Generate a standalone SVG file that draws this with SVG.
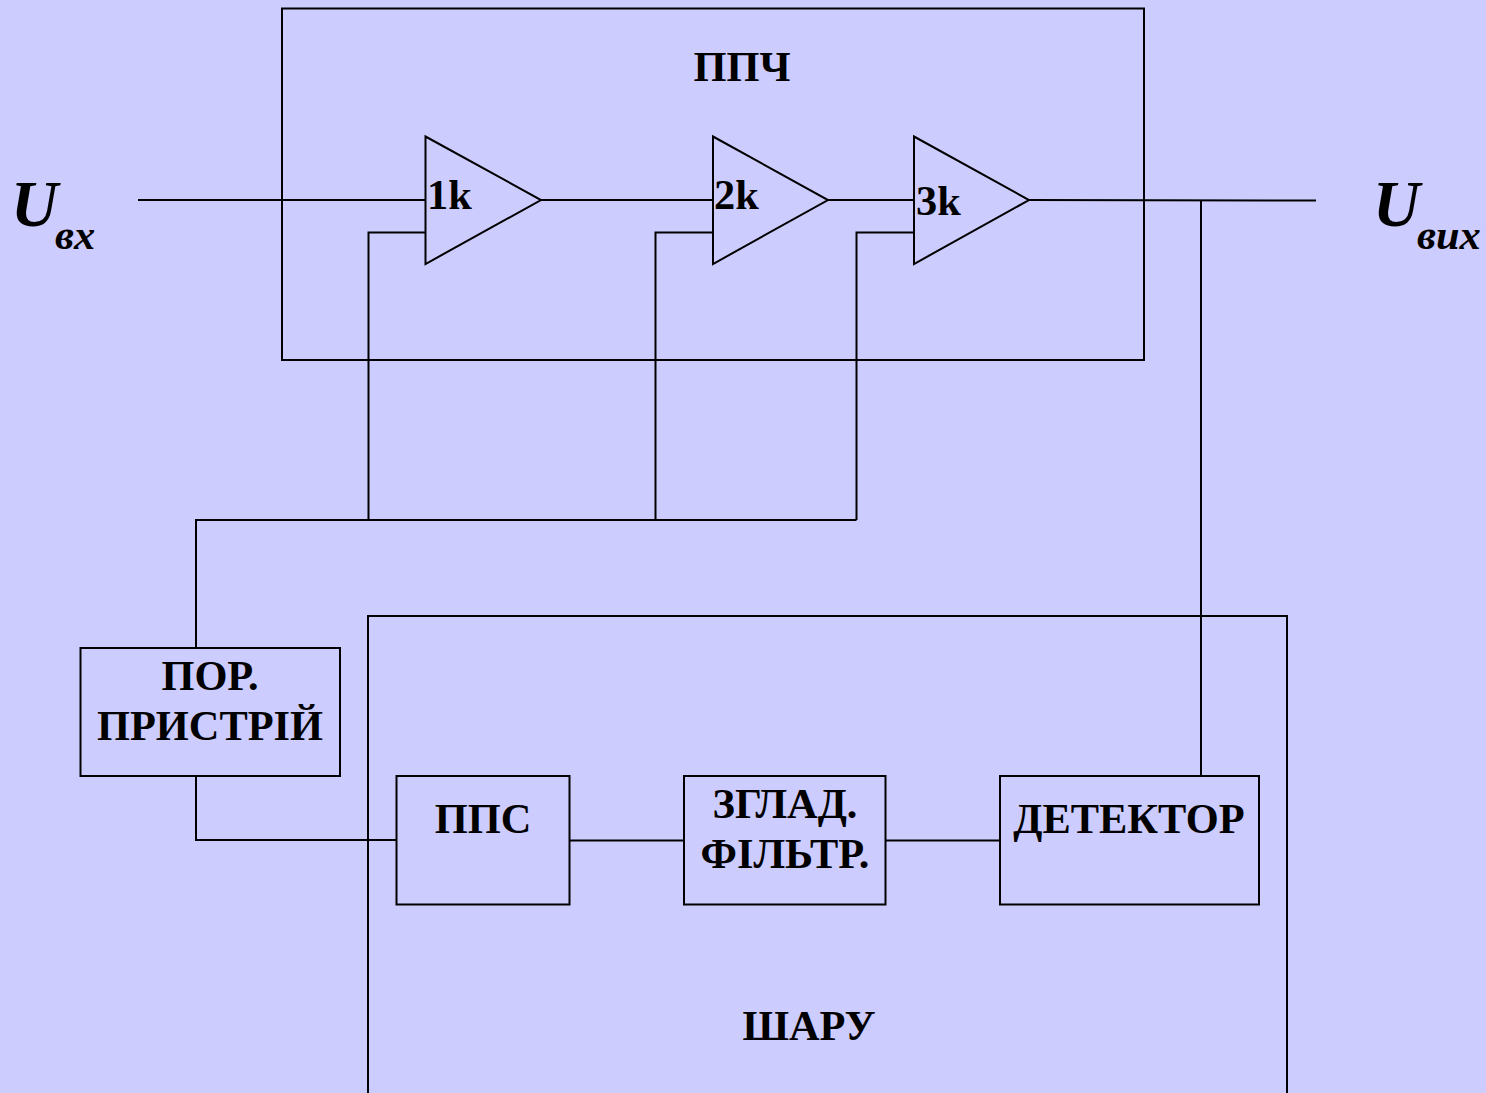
<svg xmlns="http://www.w3.org/2000/svg" width="1486" height="1093" viewBox="0 0 1486 1093">
<style>
.l{fill:none;stroke:#000;stroke-width:2}
.t{font-family:"Liberation Serif","Times New Roman",serif;font-weight:bold;fill:#000;font-size:42.4px;text-anchor:middle}
.k{font-family:"Liberation Serif","Times New Roman",serif;font-weight:bold;fill:#000;font-size:42.4px}
.u{font-family:"Liberation Serif","Times New Roman",serif;font-weight:bold;font-style:italic;fill:#000;font-size:65px}
.s{font-family:"Liberation Serif","Times New Roman",serif;font-weight:bold;font-style:italic;fill:#000;font-size:42.4px}
</style>
<rect width="1486" height="1093" fill="#ccccff"/>
<g id="ppch"><rect class="l" x="282" y="8.500" width="862" height="351.500"/><text class="t" x="742" y="81">ППЧ</text></g>
<g id="sharu"><path class="l" d="M368 1093V616H1287V1093"/><text class="t" x="809" y="1040">ШАРУ</text></g>
<g id="amp1"><path class="l" d="M425.500 136.500L541 200L425.500 264Z"/><text class="k" x="427" y="209">1k</text></g>
<g id="amp2"><path class="l" d="M713 136.500L828 200L713 264Z"/><text class="k" x="714" y="209">2k</text></g>
<g id="amp3"><path class="l" d="M914 136.500L1029 200L914 264Z"/><text class="k" x="916" y="215">3k</text></g>
<g id="por"><rect class="l" x="80.500" y="648" width="259.500" height="128"/><text class="t" x="210" y="690">ПОР.</text><text class="t" x="210" y="740">ПРИСТРІЙ</text></g>
<g id="pps"><rect class="l" x="396.500" y="776" width="173" height="128.500"/><text class="t" x="483" y="833">ППС</text></g>
<g id="filter"><rect class="l" x="684" y="776" width="201.500" height="128.500"/><text class="t" x="785" y="818">ЗГЛАД.</text><text class="t" x="785" y="868">ФІЛЬТР.</text></g>
<g id="det"><rect class="l" x="1000" y="776" width="259" height="128.500"/><text class="t" x="1129" y="833">ДЕТЕКТОР</text></g>
<g id="uin"><text class="u" x="11" y="226">U</text><text class="s" x="55" y="249">вх</text></g>
<g id="uout"><text class="u" x="1373" y="226">U</text><text class="s" x="1417" y="249">вих</text></g>
<g id="connectors">
<path class="l" d="M138 200H425.500M541 200H713M828 200H914M1029 200L1316 200.500"/>
<path class="l" d="M425.500 232.500H368.500V520M713 232.500H655.500V520M914 232.500H856.500V520M856.500 520H196V648"/>
<path class="l" d="M1201 200.500V776"/>
<path class="l" d="M196 776V840H396.500M569.500 840.500H684M885.500 840.500H1000"/>
</g>
</svg>
